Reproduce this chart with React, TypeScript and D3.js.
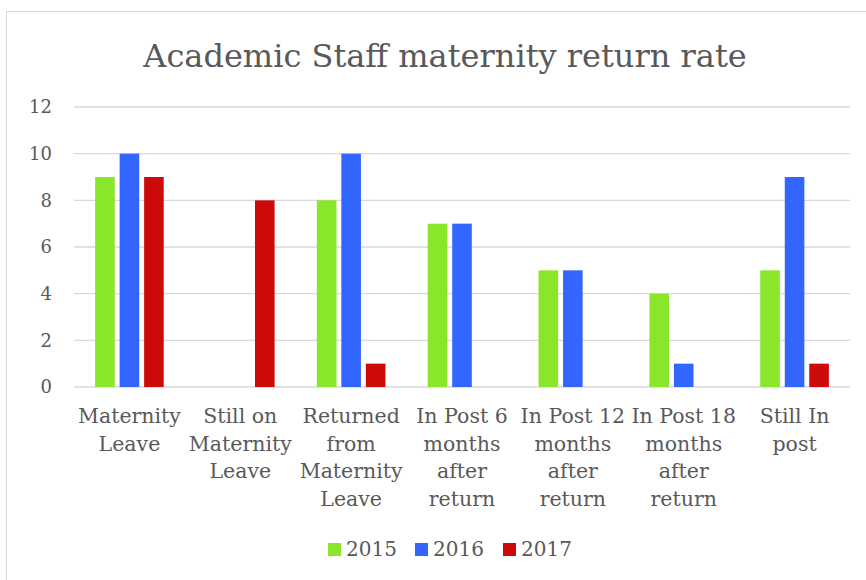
import React from "react";
import * as d3 from "d3";

const title = "Academic Staff maternity return rate";
const categories: string[][] = [
  ["Maternity", "Leave"],
  ["Still on", "Maternity", "Leave"],
  ["Returned", "from", "Maternity", "Leave"],
  ["In Post 6", "months", "after", "return"],
  ["In Post 12", "months", "after", "return"],
  ["In Post 18", "months", "after", "return"],
  ["Still In", "post"],
];
const seriesNames = ["2015", "2016", "2017"];
const values2015 = [9, 0, 8, 7, 5, 4, 5];
const values2016 = [10, 0, 10, 7, 5, 1, 9];
const values2017 = [9, 8, 1, 0, 0, 0, 1];
const yTicks = [0, 2, 4, 6, 8, 10, 12];
const colors = ["#8AE62A", "#3366FF", "#CC0A0A"];

const W = 866;
const H = 580;
const FONT = "'DejaVu Serif', 'Liberation Serif', serif";
const TEXT = "#595959";

export default function App() {
  const series = [values2015, values2016, values2017];
  const x0 = d3
    .scaleBand<number>()
    .domain(d3.range(categories.length))
    .range([74, 850]);
  const y = d3.scaleLinear().domain([0, 12]).range([387, 107]);
  const barW = 19.6;
  const step = 24.5;
  const groupW = step * 2 + barW;

  const legendX = [328, 415, 503];

  return (
    <div style={{ position: "fixed", left: 0, top: 0 }}>
      <svg width={W} height={H} style={{ display: "block", background: "#fff" }}>
        <rect x={6.5} y={11.5} width={W + 10} height={H + 10} fill="#fff" stroke="#d9d9d9" strokeWidth={1} />
        <text
          x={445}
          y={67}
          textAnchor="middle"
          fontFamily={FONT}
          fontSize={32}
          fill={TEXT}
        >
          {title}
        </text>
        {yTicks.map((t) => (
          <g key={t}>
            <line x1={74} x2={850} y1={y(t)} y2={y(t)} stroke="#d9d9d9" strokeWidth={1.3} />
            <text
              x={52}
              y={y(t)}
              dy="0.35em"
              textAnchor="end"
              fontFamily={FONT}
              fontSize={18}
              fill={TEXT}
            >
              {t}
            </text>
          </g>
        ))}
        {categories.map((c, i) => {
          const cx = (x0(i) as number) + x0.bandwidth() / 2;
          return (
            <g key={i}>
              {series.map((s, k) => {
                const v = s[i];
                if (!v) return null;
                const bx = cx - groupW / 2 + k * step;
                return (
                  <rect
                    key={k}
                    x={bx}
                    y={y(v)}
                    width={barW}
                    height={y(0) - y(v)}
                    fill={colors[k]}
                  />
                );
              })}
              <text textAnchor="middle" fontFamily={FONT} fontSize={20.5} fill={TEXT}>
                {c.map((line, j) => (
                  <tspan key={j} x={cx} y={423 + j * 27.5}>
                    {line}
                  </tspan>
                ))}
              </text>
            </g>
          );
        })}
        {seriesNames.map((n, k) => (
          <g key={n}>
            <rect x={legendX[k]} y={543} width={13} height={13} fill={colors[k]} />
            <text
              x={legendX[k] + 18}
              y={556}
              fontFamily={FONT}
              fontSize={20}
              fill={TEXT}
            >
              {n}
            </text>
          </g>
        ))}
      </svg>
    </div>
  );
}
